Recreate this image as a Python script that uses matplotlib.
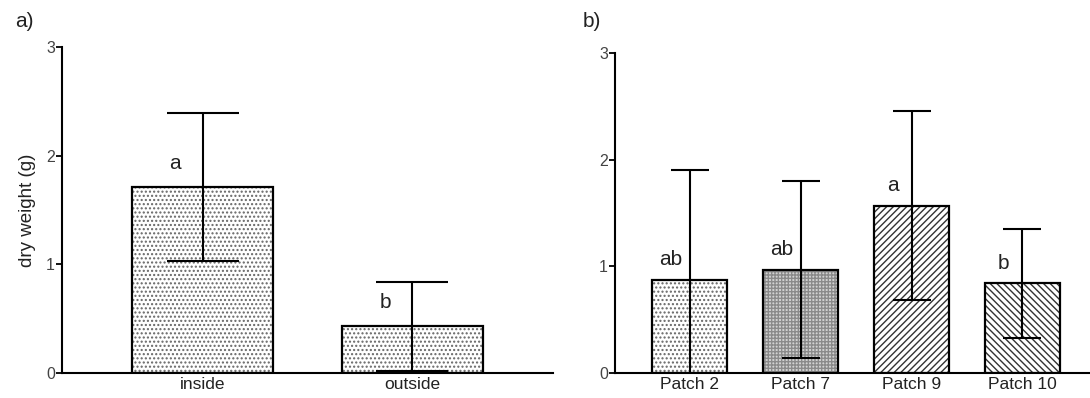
import matplotlib
matplotlib.use("Agg")
import matplotlib.pyplot as plt
import numpy as np

plt.rcParams['font.family'] = ['Liberation Sans', 'DejaVu Sans']
plt.rcParams['hatch.linewidth'] = 1.0

# Panel a: location relative to the patch
loc_labels = ["inside", "outside"]
loc_means = [1.71, 0.43]
loc_se = [0.68, 0.41]
loc_letters = ["a", "b"]

# Panel b: individual patches
patch_labels = ["Patch 2", "Patch 7", "Patch 9", "Patch 10"]
patch_means = [0.87, 0.97, 1.57, 0.84]
patch_se = [1.03, 0.83, 0.89, 0.51]
patch_letters = ["ab", "ab", "a", "b"]

y_ticks = [0, 1, 2, 3]

fig = plt.figure(figsize=(10.9, 3.98), dpi=100)
ax_a = fig.add_axes([0.0569, 0.0628, 0.4505, 0.819])
ax_b = fig.add_axes([0.5642, 0.0628, 0.4358, 0.804])

TXT = "#222222"
TICK = "#444444"


def hatched_bars(ax, x, h, width, hatch, hcolor, face):
    # pattern layer, then a crisp black outline on top
    ax.bar(x, h, width=width, color=face, hatch=hatch, edgecolor=hcolor,
           linewidth=0, zorder=2)
    ax.bar(x, h, width=width, fill=False, edgecolor="black",
           linewidth=1.6, zorder=3)


def style(ax, xlim, labels, xpos):
    ax.set_xlim(*xlim)
    ax.set_ylim(0, 3)
    ax.set_yticks(y_ticks)
    ax.set_yticklabels([str(t) for t in y_ticks], color=TICK, fontsize=11.5)
    ax.set_xticks(xpos)
    ax.set_xticklabels(labels, color=TXT, fontsize=12.5)
    ax.tick_params(axis="x", length=0, pad=3)
    ax.tick_params(axis="y", direction="out", length=4, width=1.3, pad=1)
    for s in ("top", "right"):
        ax.spines[s].set_visible(False)
    for s in ("left", "bottom"):
        ax.spines[s].set_linewidth(1.5)


width = 0.675
DOTS = ("....", "#666666", "white")

# ---- panel a ----
xa = np.arange(len(loc_labels))
hatched_bars(ax_a, xa, loc_means, width, *DOTS)
ax_a.errorbar(xa, loc_means, yerr=loc_se, fmt="none", ecolor="black",
              elinewidth=1.5, capsize=26, capthick=1.5, zorder=4)
for x, m, se, t in zip(xa, loc_means, loc_se, loc_letters):
    ax_a.text(x - 0.13, m + 0.22, t, ha="center", va="center",
              fontsize=15, color=TXT)
style(ax_a, (-0.67, 1.67), loc_labels, xa)
ax_a.set_ylabel("dry weight (g)", fontsize=13.5, color=TXT, labelpad=7)
fig.text(0.014, 0.945, "a)", fontsize=15, color=TXT, va="center")

# ---- panel b ----
xb = np.arange(len(patch_labels))
hatch_styles = [DOTS,
                ("+++++", "#8a8a8a", "#d2d2d2"),
                ("/////", "#333333", "white"),
                ("\\\\\\\\\\", "#333333", "white")]
for x, m, (hp, hc, fc) in zip(xb, patch_means, hatch_styles):
    hatched_bars(ax_b, [x], [m], width, hp, hc, fc)
ax_b.errorbar(xb, patch_means, yerr=patch_se, fmt="none", ecolor="black",
              elinewidth=1.5, capsize=13.5, capthick=1.5, zorder=4)
for x, m, se, t in zip(xb, patch_means, patch_se, patch_letters):
    ax_b.text(x - 0.17, m + 0.19, t, ha="center", va="center",
              fontsize=15, color=TXT)
style(ax_b, (-0.675, 3.61), patch_labels, xb)
fig.text(0.535, 0.945, "b)", fontsize=15, color=TXT, va="center")

fig.savefig("out.png", dpi=100, facecolor="white")
